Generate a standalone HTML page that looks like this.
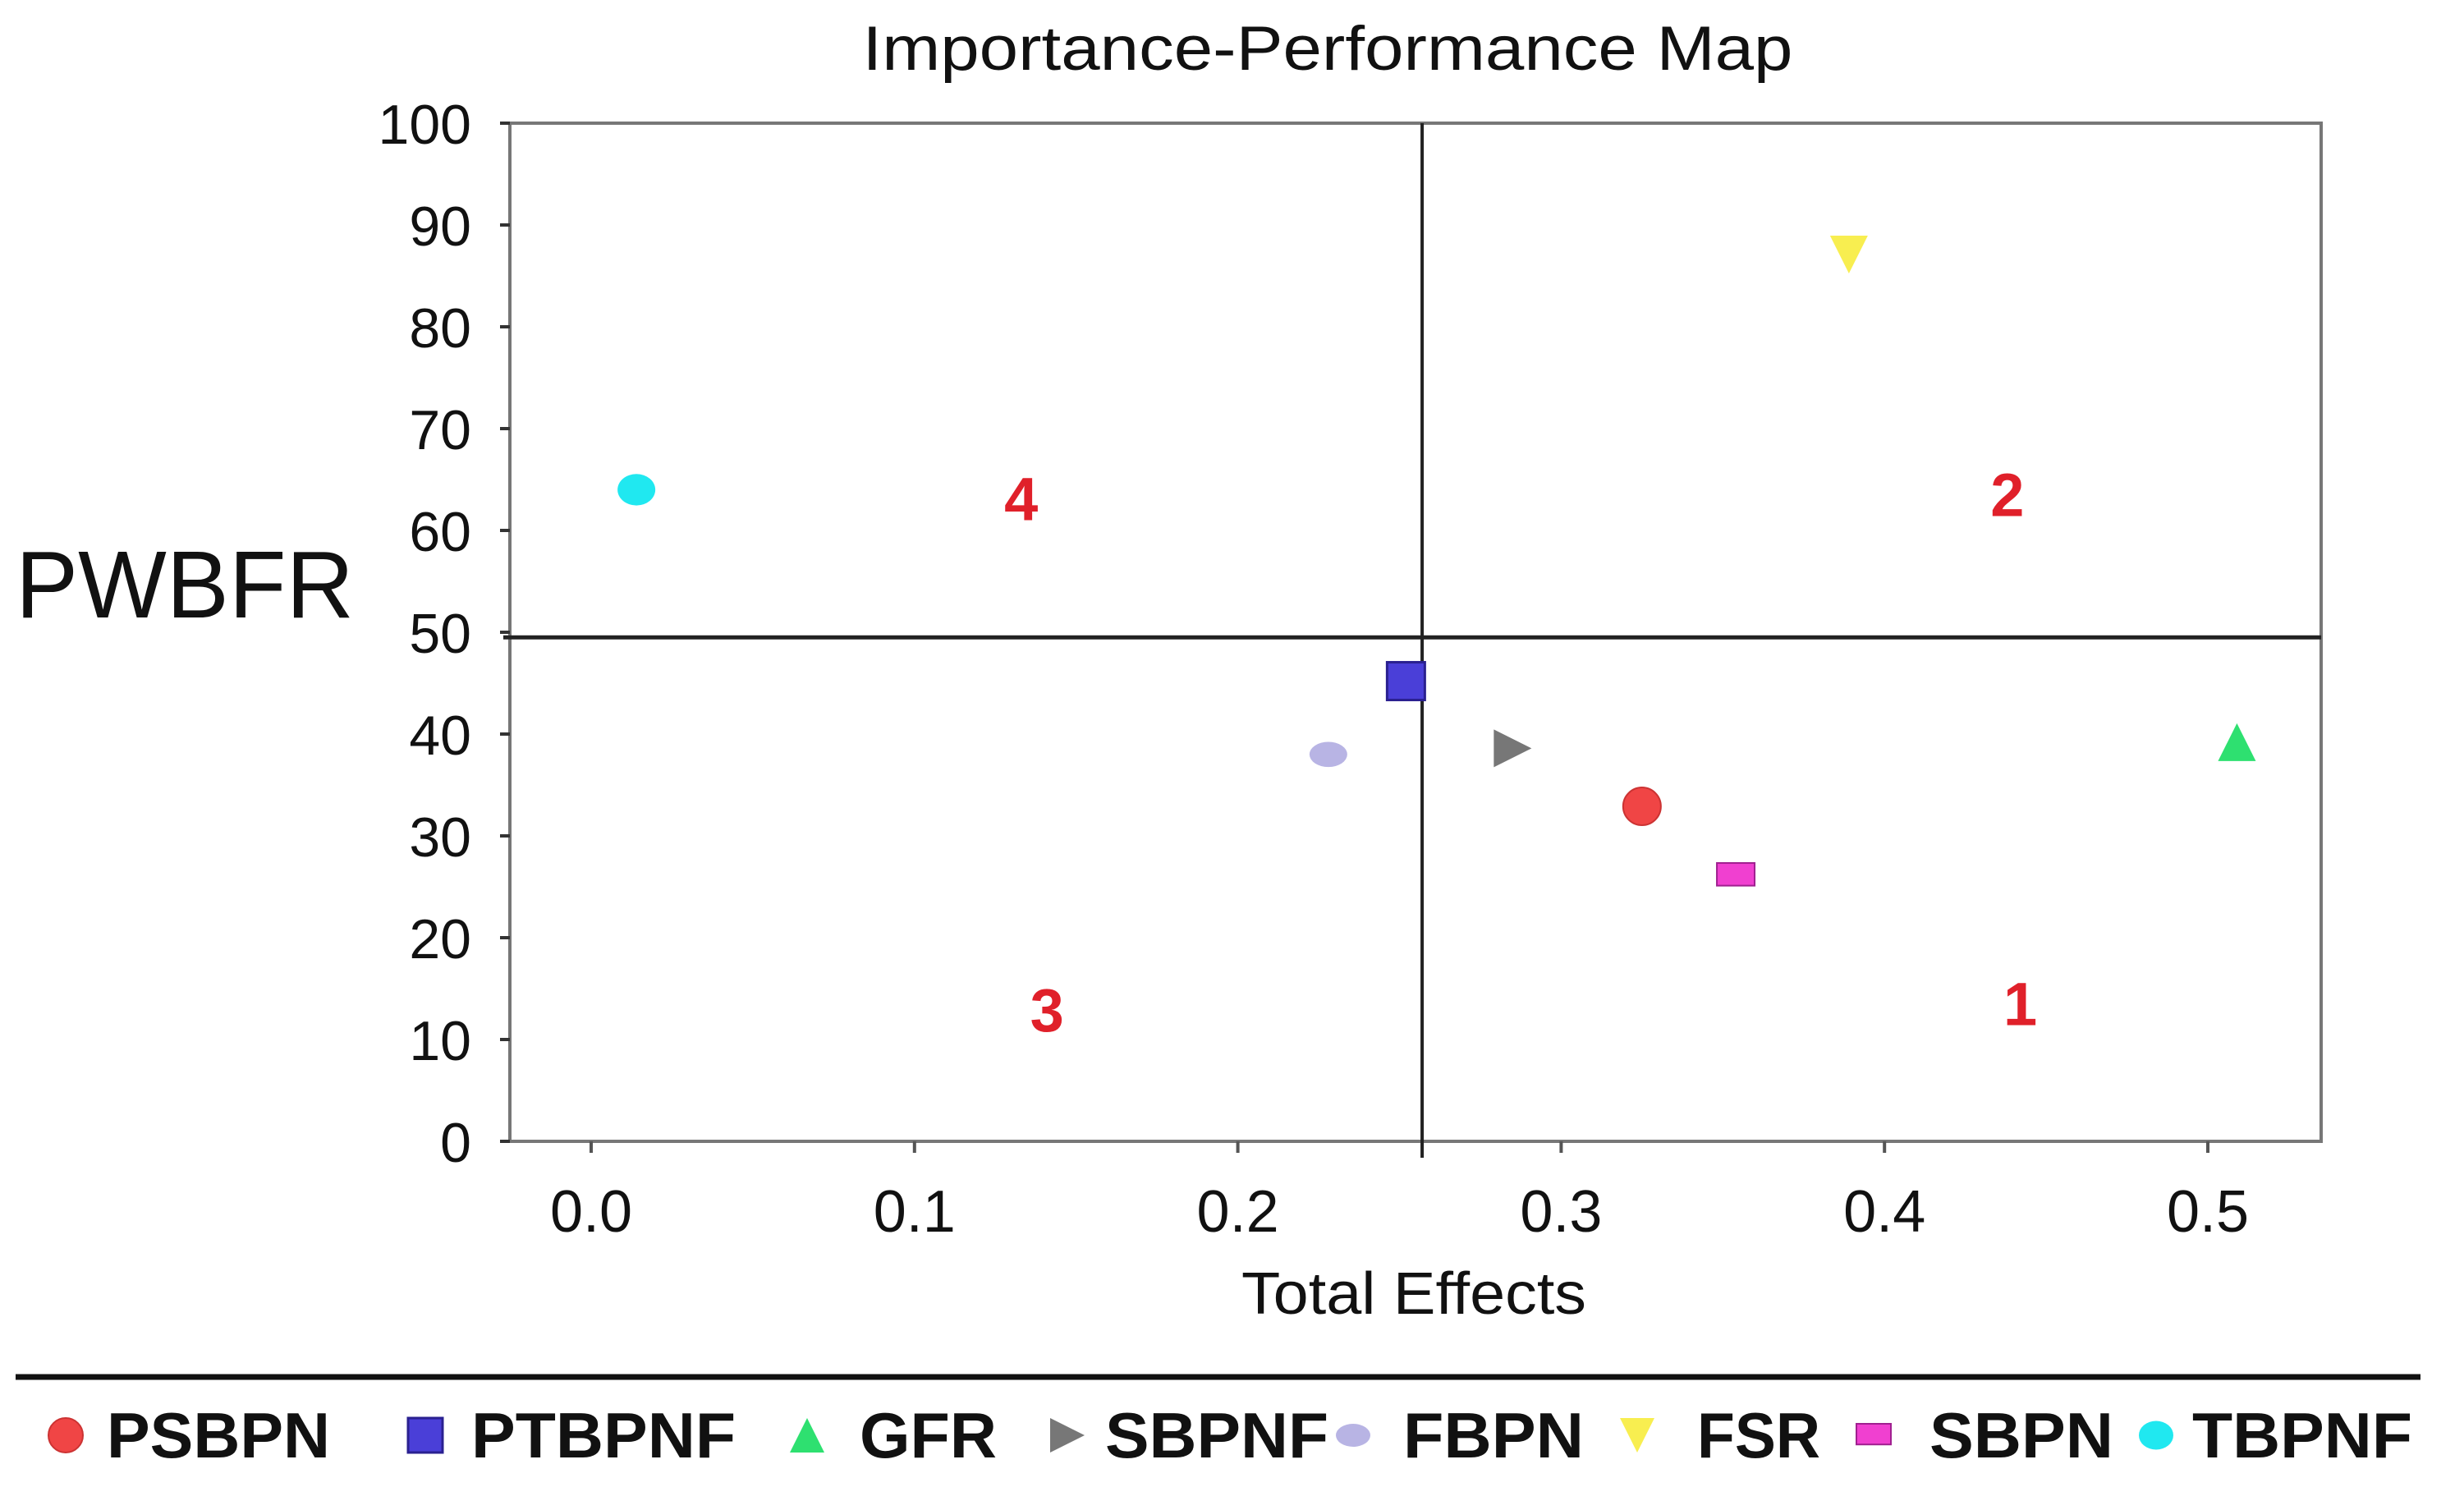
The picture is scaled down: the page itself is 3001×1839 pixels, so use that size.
<!DOCTYPE html>
<html><head><meta charset="utf-8"><style>
html,body{margin:0;padding:0;background:#fff;}
svg{display:block;font-family:"Liberation Sans",Arial,sans-serif;}
</style></head><body>
<svg id="chart" width="3001" height="1839" viewBox="0 0 3001 1839" xmlns="http://www.w3.org/2000/svg">
<rect width="3001" height="1839" fill="#fff"/>
<text x="1617" y="85" text-anchor="middle" font-size="76" textLength="1133" lengthAdjust="spacingAndGlyphs" fill="#111">Importance-Performance Map</text>
<text x="19" y="752" font-size="116" textLength="412" lengthAdjust="spacingAndGlyphs" fill="#111">PWBFR</text>
<text x="1722" y="1600" text-anchor="middle" font-size="72" textLength="420" lengthAdjust="spacingAndGlyphs" fill="#111">Total Effects</text>
<g id="grid"></g><g id="axes"></g><g id="marks"></g><g id="legend"></g>
</svg>
<script>
const categories = ["PSBPN","PTBPNF","GFR","SBPNF","FBPN","FSR","SBPN","TBPNF"];
const totalEffects = [0.325,0.252,0.509,0.285,0.228,0.389,0.354,0.014];
const performance = [32.9,45.2,39.2,38.6,38.0,87.1,26.1,64.0];
const xTicks = [0.0,0.1,0.2,0.3,0.4,0.5];
const xTickLabels = ["0.0","0.1","0.2","0.3","0.4","0.5"];
const yTicks = [0,10,20,30,40,50,60,70,80,90,100];
const quadrantX = [0.257];
const quadrantY = [49.5];
const quadrantLabels = ["1","2","3","4"];
const quadrantLabelX = [0.442,0.438,0.141,0.133];
const quadrantLabelY = [13.6,63.6,13.0,63.2];

const NS="http://www.w3.org/2000/svg";
const L=621,R=2827,T=150,B=1390;
function sx(v){return 720+v*3938;}
function sy(v){return B-(v/100)*(B-T);}
function mk(tag,attrs,parent){const e=document.createElementNS(NS,tag);for(const k in attrs)e.setAttribute(k,attrs[k]);parent.appendChild(e);return e;}
const grid=document.getElementById('grid'),axes=document.getElementById('axes'),marks=document.getElementById('marks'),legend=document.getElementById('legend');

mk('rect',{x:L,y:T,width:R-L,height:B-T,fill:'#fff',stroke:'#777','stroke-width':4},axes);
xTicks.forEach((t,i)=>{
  const x=sx(t);
  const g=mk('line',{x1:x,y1:T,x2:x,y2:B,stroke:'#bbb','stroke-width':2.5,'stroke-dasharray':'6 18'},grid);
  
  
  mk('line',{x1:x,y1:B,x2:x,y2:B+14,stroke:'#555','stroke-width':4},axes);
  const tx=mk('text',{x:x,y:1500,'text-anchor':'middle','font-size':72,fill:'#111'},axes);
  tx.textContent=xTickLabels[i];
  
  
});
yTicks.forEach(t=>{
  const y=sy(t);
  if(t>0&&t<100){const g=mk('line',{x1:L,y1:y,x2:R,y2:y,stroke:'#bbb','stroke-width':2.5,'stroke-dasharray':'10 14'},grid);
  
  }
  mk('line',{x1:L-12,y1:y,x2:L,y2:y,stroke:'#333','stroke-width':4},axes);
  const tx=mk('text',{x:574,y:y+25,'text-anchor':'end','font-size':68,fill:'#111'},axes);
  tx.textContent=String(t);
  
  
});
quadrantX.forEach(v=>{const l=mk('line',{x1:sx(v),y1:T,x2:sx(v),y2:B+20,stroke:'#222','stroke-width':4},axes);
  
  });
quadrantY.forEach(v=>{const l=mk('line',{x1:L-8,y1:sy(v),x2:R,y2:sy(v),stroke:'#222','stroke-width':5},axes);
  
  });
quadrantLabels.forEach((s,i)=>{
  const t=mk('text',{x:sx(quadrantLabelX[i]),y:sy(quadrantLabelY[i])+27,'text-anchor':'middle','font-size':74,'font-weight':'bold',fill:'#e0202a',transform:''},axes);
  t.textContent=s;
  
  
});

const colors=["#f04545","#4a3fd8","#2ee070","#777777","#b8b4e4","#f8ee50","#f040d0","#20e8f0"];
function shape(i,cx,cy,s,parent){
  const c=colors[i];
  switch(i){
    case 0: return mk('circle',{cx:cx,cy:cy,r:s/2,fill:c,stroke:'#c33','stroke-width':2},parent);
    case 1: return mk('rect',{x:cx-s/2,y:cy-s/2,width:s,height:s,fill:c,stroke:'#2a2090','stroke-width':3},parent);
    case 2: return mk('polygon',{points:`${cx},${cy-s/2} ${cx+s/2},${cy+s/2} ${cx-s/2},${cy+s/2}`,fill:c},parent);
    case 3: return mk('polygon',{points:`${cx-s/2},${cy-s/2} ${cx+s/2},${cy} ${cx-s/2},${cy+s/2}`,fill:c},parent);
    case 4: return mk('ellipse',{cx:cx,cy:cy,rx:s/2,ry:s/3,fill:c},parent);
    case 5: return mk('polygon',{points:`${cx-s/2},${cy-s/2} ${cx+s/2},${cy-s/2} ${cx},${cy+s/2}`,fill:c},parent);
    case 6: return mk('rect',{x:cx-s/2,y:cy-s/3,width:s,height:s*0.6,fill:c,stroke:'#a02090','stroke-width':2},parent);
    default: return mk('ellipse',{cx:cx,cy:cy,rx:s/2,ry:s/2.4,fill:c},parent);
  }
}
categories.forEach((c,i)=>{
  const e=shape(i,sx(totalEffects[i]),sy(performance[i]),46,marks);
  
  
});

const lg=mk('line',{x1:19,y1:1677,x2:2948,y2:1677,stroke:'#111','stroke-width':7},legend);


const lgMarkX=[80,518,983,1300,1648,1994,2282,2626];
const lgTextX=[130,574,1047,1346,1709,2067,2350,2670];
const lgTextW=[272,322,167,272,220,150,224,268];
categories.forEach((c,i)=>{
  const g=mk('g',{},legend);
  
  
  shape(i,lgMarkX[i],1748,42,g);
  const t=mk('text',{x:lgTextX[i],y:1775,'font-size':78,'font-weight':'bold',textLength:lgTextW[i],lengthAdjust:'spacingAndGlyphs',fill:'#111'},g);
  t.textContent=c;
});
</script>
</body></html>
